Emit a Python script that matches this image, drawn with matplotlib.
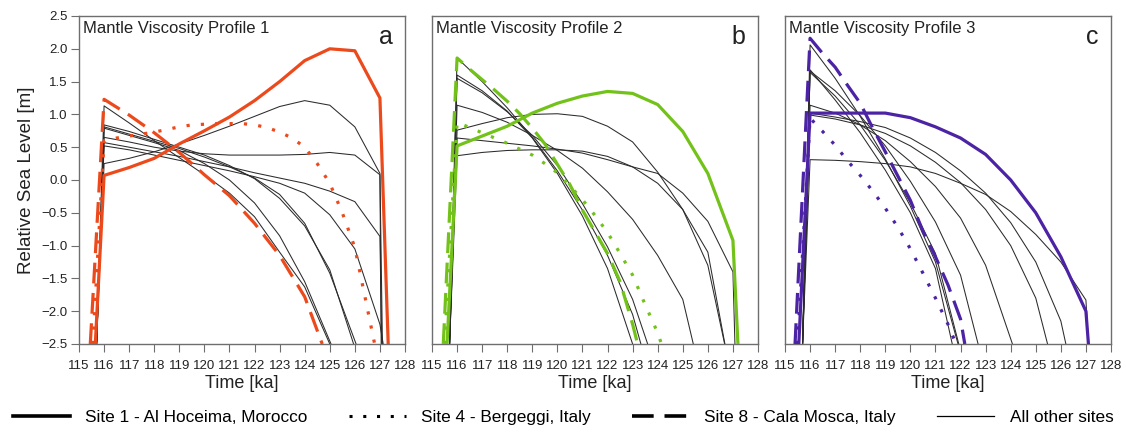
import matplotlib
matplotlib.use('Agg')
import matplotlib.pyplot as plt
import matplotlib.font_manager as fm
from matplotlib.lines import Line2D

# ---- data ----
# panel a - Mantle Viscosity Profile 1
a_site1_t = [115.65, 116, 117, 118, 119, 120, 121, 122, 123, 124, 125, 126, 127, 127.33]
a_site1_v = [-2.5, 0.07, 0.19, 0.33, 0.55, 0.75, 0.96, 1.21, 1.5, 1.82, 2.0, 1.97, 1.25, -2.5]
a_site4_t = [115.55, 116, 116.5, 117, 117.5, 118, 118.5, 119, 119.5, 120, 120.5, 121, 121.5,
             122, 122.5, 123, 123.5, 124, 124.5, 125, 125.5, 126, 126.5, 126.79]
a_site4_v = [-2.5, 0.6, 0.64, 0.67, 0.7, 0.73, 0.77, 0.81, 0.84, 0.85, 0.86, 0.86, 0.86,
             0.84, 0.8, 0.73, 0.64, 0.5, 0.25, -0.05, -0.5, -1.03, -1.96, -2.5]
a_site8_t = [115.45, 116, 117, 118, 119, 120, 121, 122, 123, 124, 124.7]
a_site8_v = [-2.5, 1.23, 0.99, 0.72, 0.42, 0.08, -0.24, -0.66, -1.15, -1.78, -2.5]
a_other_t = [
    [115.7, 116, 117, 118, 119, 120, 121, 122, 123, 124, 125.0],
    [115.7, 116, 117, 118, 119, 120, 121, 122, 123, 124, 125, 125.95],
    [115.7, 116, 117, 118, 119, 120, 121, 122, 123, 124, 125, 126.05],
    [115.7, 116, 117, 118, 119, 120, 121, 122, 123, 124, 125, 126, 127, 127.07],
    [115.7, 116, 117, 118, 119, 120, 121, 122, 123, 124, 125, 126, 127, 127.13],
    [115.7, 116, 117, 118, 119, 120, 121, 122, 123, 124, 125, 126, 127, 127.05],
    [115.7, 116, 117, 118, 119, 120, 121, 122, 123, 124, 125, 126, 127, 127.1],
    [115.7, 116, 117, 118, 119, 120, 121, 122, 123, 124, 125.05],
]
a_other_v = [
    [-2.5, 1.13, 0.87, 0.6, 0.34, 0.08, -0.2, -0.56, -1.1, -1.63, -2.5],
    [-2.5, 0.84, 0.74, 0.62, 0.5, 0.38, 0.22, 0.02, -0.28, -0.7, -1.37, -2.5],
    [-2.5, 0.81, 0.7, 0.59, 0.48, 0.35, 0.2, 0.03, -0.22, -0.66, -1.42, -2.5],
    [-2.5, 0.57, 0.5, 0.43, 0.36, 0.28, 0.2, 0.11, 0.03, -0.05, -0.17, -0.33, -0.86, -2.5],
    [-2.5, 0.52, 0.46, 0.38, 0.3, 0.22, 0.14, 0.05, -0.05, -0.2, -0.53, -1.05, -2.2, -2.5],
    [-2.5, 0.65, 0.58, 0.5, 0.44, 0.4, 0.38, 0.38, 0.38, 0.39, 0.42, 0.38, 0.08, -2.5],
    [-2.5, 0.25, 0.33, 0.43, 0.55, 0.68, 0.82, 0.97, 1.12, 1.21, 1.14, 0.81, 0.1, -2.5],
    [-2.5, 0.79, 0.68, 0.57, 0.45, 0.25, 0.0, -0.35, -0.85, -1.55, -2.5],
]

# panel b - Mantle Viscosity Profile 2
b_site1_t = [115.6, 116, 117, 118, 119, 120, 121, 122, 123, 124, 125, 126, 127, 127.2]
b_site1_v = [-2.5, 0.52, 0.67, 0.82, 1.02, 1.17, 1.28, 1.35, 1.32, 1.15, 0.74, 0.1, -0.92, -2.5]
b_site4_t = [115.5, 116, 116.5, 117, 117.5, 118, 118.5, 119, 119.5, 120, 120.5, 121, 121.5,
             122, 122.5, 123, 123.5, 124, 124.15]
b_site4_v = [-2.5, 0.88, 0.8, 0.72, 0.64, 0.56, 0.47, 0.38, 0.25, 0.11, -0.09, -0.3, -0.54,
             -0.8, -1.12, -1.45, -1.9, -2.33, -2.5]
b_site8_t = [115.45, 116, 116.5, 117, 117.5, 118, 118.5, 119, 119.5, 120, 120.5, 121, 121.5,
             122, 122.5, 123, 123.2]
b_site8_v = [-2.5, 1.86, 1.69, 1.53, 1.37, 1.2, 1.01, 0.79, 0.55, 0.24, -0.07, -0.46, -0.79,
             -1.12, -1.55, -2.2, -2.5]
b_other_t = [
    [115.7, 116, 117, 118, 119, 120, 121, 122, 123],
    [115.7, 116, 117, 118, 119, 120, 121, 122, 123, 123.33],
    [115.7, 116, 117, 118, 119, 120, 121, 122, 123, 123.6],
    [115.7, 116, 117, 118, 119, 120, 121, 122, 123, 124, 125, 126, 126.67],
    [115.7, 116, 117, 118, 119, 120, 121, 122, 123, 124, 125, 125.42],
    [115.7, 116, 117, 118, 119, 120, 121, 122, 123, 124, 125, 126, 127, 127.08],
    [115.7, 116, 117, 118, 119, 120, 121, 122, 123, 124, 125, 126, 126.68],
]
b_other_v = [
    [-2.5, 1.6, 1.36, 1.05, 0.64, 0.1, -0.55, -1.35, -2.5],
    [-2.5, 1.86, 1.5, 1.1, 0.65, 0.14, -0.46, -1.15, -2.05, -2.5],
    [-2.5, 1.55, 1.33, 1.04, 0.68, 0.22, -0.36, -1.02, -1.82, -2.5],
    [-2.5, 0.76, 0.86, 0.95, 1.0, 1.01, 0.97, 0.82, 0.58, 0.12, -0.45, -1.3, -2.5],
    [-2.5, 1.14, 1.03, 0.88, 0.68, 0.45, 0.18, -0.18, -0.6, -1.15, -1.82, -2.5],
    [-2.5, 0.64, 0.6, 0.56, 0.52, 0.47, 0.41, 0.31, 0.2, 0.1, -0.2, -0.63, -1.4, -2.5],
    [-2.5, 0.37, 0.42, 0.45, 0.46, 0.46, 0.44, 0.36, 0.2, -0.05, -0.45, -1.1, -2.5],
]

# panel c - Mantle Viscosity Profile 3
c_site1_t = [115.55, 116, 117, 118, 119, 120, 121, 122, 123, 124, 125, 126, 127, 127.1]
c_site1_v = [-2.5, 1.02, 1.02, 1.02, 1.02, 0.95, 0.81, 0.64, 0.39, 0.0, -0.5, -1.17, -2.0, -2.5]
c_site4_t = [115.5, 116, 116.33, 116.5, 117, 117.5, 118, 118.5, 119, 119.5, 120, 120.5, 121,
             121.5, 121.82]
c_site4_v = [-2.5, 0.95, 0.8, 0.74, 0.53, 0.29, 0.07, -0.17, -0.43, -0.72, -1.05, -1.42, -1.8,
             -2.2, -2.5]
c_site8_t = [115.4, 116, 116.5, 117, 117.5, 118, 118.5, 119, 119.5, 120, 120.5, 121, 121.5,
             122, 122.17]
c_site8_v = [-2.5, 2.16, 1.93, 1.72, 1.44, 1.17, 0.79, 0.43, 0.06, -0.31, -0.78, -1.17, -1.6,
             -2.12, -2.5]
c_other_t = [
    [115.7, 116, 117, 118, 119, 120, 121, 121.9],
    [115.7, 116, 117, 118, 119, 120, 121, 121.67],
    [115.7, 116, 117, 118, 119, 120, 121, 121.93],
    [115.7, 116, 117, 118, 119, 120, 121, 122, 122.7],
    [115.7, 116, 117, 118, 119, 120, 121, 122, 123, 124.07],
    [115.7, 116, 117, 118, 119, 120, 121, 122, 123, 124, 125, 125.47],
    [115.7, 116, 117, 118, 119, 120, 121, 122, 123, 124, 125, 126, 126.2],
    [115.7, 116, 117, 118, 119, 120, 121, 122, 123, 124, 125, 126, 127, 127.1],
]
c_other_v = [
    [-2.5, 2.06, 1.55, 0.97, 0.32, -0.4, -1.25, -2.5],
    [-2.5, 1.68, 1.22, 0.72, 0.15, -0.5, -1.35, -2.5],
    [-2.5, 1.64, 1.28, 0.84, 0.3, -0.35, -1.12, -2.5],
    [-2.5, 1.66, 1.36, 0.98, 0.52, -0.02, -0.64, -1.45, -2.5],
    [-2.5, 1.14, 1.02, 0.84, 0.6, 0.28, -0.1, -0.58, -1.3, -2.5],
    [-2.5, 0.99, 0.93, 0.84, 0.71, 0.52, 0.27, -0.04, -0.45, -1.0, -1.8, -2.5],
    [-2.5, 1.02, 0.96, 0.89, 0.8, 0.64, 0.42, 0.14, -0.2, -0.65, -1.25, -2.15, -2.5],
    [-2.5, 0.31, 0.3, 0.28, 0.25, 0.2, 0.1, -0.05, -0.22, -0.48, -0.83, -1.25, -1.83, -2.5],
]

panel_titles = ['Mantle Viscosity Profile 1', 'Mantle Viscosity Profile 2',
                'Mantle Viscosity Profile 3']
panel_letters = ['a', 'b', 'c']
legend_labels = ['Site 1 - Al Hoceima, Morocco', 'Site 4 - Bergeggi, Italy',
                 'Site 8 - Cala Mosca, Italy', 'All other sites']
x_ticks = list(range(115, 129))
y_ticks = [2.5, 2.0, 1.5, 1.0, 0.5, 0.0, -0.5, -1.0, -1.5, -2.0, -2.5]

SPINE = '#6e6e6e'
THICK = 2.3
THIN = 0.75


def plot_panel(ax, colour, site1, site4, site8, other_t, other_v, title, letter, first):
    # all other sites, thin black
    for t, v in zip(other_t, other_v):
        ax.plot(t, v, color='#2b2b2b', lw=THIN, zorder=2)
    ax.plot(site4[0], site4[1], color=colour, lw=THICK, ls=(0, (1, 3.5)), zorder=3)
    ax.plot(site8[0], site8[1], color=colour, lw=THICK, ls=(0, (6.5, 3)), zorder=3)
    ax.plot(site1[0], site1[1], color=colour, lw=THICK, zorder=4)

    ax.set_xlim(115, 128)
    ax.set_ylim(-2.5, 2.5)
    ax.set_xticks(x_ticks)
    ax.tick_params(axis='x', direction='out', length=5.5, width=0.8, color=SPINE,
                   labelsize=9.5, pad=6, labelcolor='#222222')
    if first:
        ax.set_yticks(y_ticks)
        ax.set_yticklabels([f'{y:.1f}'.replace('-', '\u2212') for y in y_ticks])
        ax.tick_params(axis='y', direction='out', length=5.5, width=0.8, color=SPINE,
                       labelsize=9.5, pad=2.5, labelcolor='#222222')
        ax.set_ylabel('Relative Sea Level [m]', fontsize=13.5, labelpad=5, color='#222222')
    else:
        ax.set_yticks([])
    for sp in ax.spines.values():
        sp.set_color(SPINE)
        sp.set_linewidth(1.0)
    ax.set_xlabel('Time [ka]', fontsize=13, labelpad=2.5, color='#222222')
    ax.text(0.013, 0.962, title, transform=ax.transAxes, fontsize=12,
            ha='left', va='center', color='#222222')
    ax.text(0.962, 0.915, letter, transform=ax.transAxes, fontsize=18,
            ha='right', va='baseline', color='#222222')


if __name__ == "__main__":
    plt.rcParams['font.family'] = ['Liberation Sans', 'DejaVu Sans']
    font_names = {f.name for f in fm.fontManager.ttflist}

    fig = plt.figure(figsize=(11.26, 4.34), dpi=100)
    W, H = 1126.0, 434.0
    lefts = [79, 432, 785]
    colours = ['#ec4a1c', '#72c21a', '#4b23a4']
    sites = [
        ((a_site1_t, a_site1_v), (a_site4_t, a_site4_v), (a_site8_t, a_site8_v), a_other_t, a_other_v),
        ((b_site1_t, b_site1_v), (b_site4_t, b_site4_v), (b_site8_t, b_site8_v), b_other_t, b_other_v),
        ((c_site1_t, c_site1_v), (c_site4_t, c_site4_v), (c_site8_t, c_site8_v), c_other_t, c_other_v),
    ]
    for i in range(3):
        ax = fig.add_axes([lefts[i] / W, (H - 344) / H, 326 / W, 328 / H])
        s1, s4, s8, ot, ov = sites[i]
        plot_panel(ax, colours[i], s1, s4, s8, ot, ov, panel_titles[i], panel_letters[i], i == 0)

    # legend along the bottom
    if 'Liberation Sans Narrow' in font_names:
        leg_font = {'family': 'Liberation Sans Narrow', 'size': 15}
    else:
        leg_font = {'family': 'Liberation Sans', 'size': 12.4}
    handles = [
        Line2D([], [], color='k', lw=2.6),
        Line2D([], [], color='k', lw=2.2, ls=(0, (1, 3.5))),
        Line2D([], [], color='k', lw=2.6, ls=(0, (6, 3))),
        Line2D([], [], color='k', lw=0.9),
    ]
    fig.legend(handles, legend_labels, ncol=4, loc='center', bbox_to_anchor=(0.5, 0.037),
               frameon=False, prop=leg_font, handlelength=3.3, handletextpad=0.9,
               columnspacing=2.4)

    fig.savefig('out.png', dpi=100)
